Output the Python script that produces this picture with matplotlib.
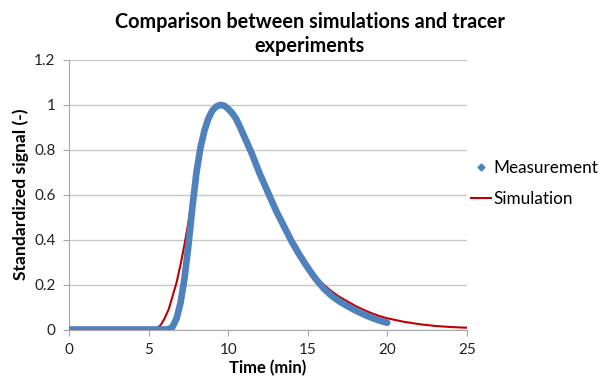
import numpy as np
import matplotlib
matplotlib.use("Agg")
import matplotlib.pyplot as plt
from matplotlib.lines import Line2D

plt.rcParams['font.family'] = ['Lato', 'DejaVu Sans']

# measurement (tracer experiment), standardized signal
t_meas = [0, 1, 2, 3, 4, 5, 5.5, 6, 6.35, 6.5, 6.75, 7, 7.25, 7.5, 7.75, 8, 8.25, 8.5,
          8.75, 9, 9.25, 9.5, 9.75, 10, 10.25, 10.5, 10.75, 11, 11.5, 12, 12.5, 13, 13.5, 14, 14.5,
          15, 15.5, 16, 16.5, 17, 17.5, 18, 18.5, 19, 19.5, 20]
meas = [0, 0, 0, 0, 0, 0, 0, 0, 0.003, 0.012, 0.05, 0.12, 0.23, 0.38, 0.55, 0.70, 0.81, 0.885,
        0.94, 0.975, 0.993, 1.0, 0.996, 0.982, 0.963, 0.937, 0.90, 0.86, 0.78, 0.69, 0.61, 0.53, 0.46, 0.39, 0.33,
        0.275, 0.225, 0.183, 0.15, 0.125, 0.104, 0.085, 0.068, 0.053, 0.04, 0.03]

# simulation
t_sim = [0, 5, 5.4, 5.75, 6, 6.25, 6.5, 6.75, 7, 7.25, 7.5, 7.75, 8, 8.25, 8.5, 8.75, 9,
         9.25, 9.5, 9.75, 10, 10.5, 11, 11.5, 12, 12.5, 13, 13.5, 14, 14.5, 15, 15.5, 16,
         16.5, 17, 17.5, 18, 18.5, 19, 19.5, 20, 21, 22, 23, 24, 25]
sim = [0, 0, 0, 0.02, 0.05, 0.09, 0.15, 0.21, 0.29, 0.38, 0.48, 0.60, 0.71, 0.81, 0.88, 0.94, 0.975,
       0.993, 1.0, 0.998, 0.99, 0.95, 0.87, 0.79, 0.70, 0.62, 0.54, 0.47, 0.40, 0.34, 0.285, 0.235, 0.20,
       0.17, 0.145, 0.125, 0.105, 0.088, 0.073, 0.06, 0.05, 0.035, 0.024, 0.016, 0.011, 0.008]

xticks = [0, 5, 10, 15, 20, 25]
yticks = [0, 0.2, 0.4, 0.6, 0.8, 1, 1.2]
ytick_labels = ['0', '0.2', '0.4', '0.6', '0.8', '1', '1.2']

blue = '#4f81bd'
red = '#c00000'

fig = plt.figure(figsize=(6.05, 3.82), dpi=100)
ax = fig.add_axes([0.1146, 0.1374, 0.6568, 0.7056])

ax.plot(t_sim, sim, color=red, lw=1.5, zorder=3)
ax.plot(t_meas, meas, color=blue, lw=4.8, solid_capstyle='round', solid_joinstyle='round', zorder=4)

ax.set_xlim(0, 25)
ax.set_ylim(0, 1.2)
ax.set_xticks(xticks)
ax.set_yticks(yticks)
ax.set_yticklabels(ytick_labels)
ax.grid(axis='y', color='#c8c8c8', lw=1)
ax.set_axisbelow(True)
for s in ['top', 'right']:
    ax.spines[s].set_visible(False)
for s in ['left', 'bottom']:
    ax.spines[s].set_color('#a6a6a6')
ax.tick_params(axis='both', colors='#a6a6a6', labelcolor='#222222', labelsize=11, length=4)
ax.tick_params(axis='x', pad=6)
ax.tick_params(axis='y', pad=6)

ax.set_xlabel('Time (min)', fontsize=12, fontweight='bold', labelpad=2)
ax.set_ylabel('Standardized signal (-)', fontsize=12.6, fontweight='bold', labelpad=4)

fig.text(0.512, 0.968, 'Comparison between simulations and tracer\nexperiments',
         ha='center', va='top', fontsize=14.3, fontweight='bold', linespacing=1.25)

handles = [Line2D([], [], color=blue, marker='D', markersize=3.5, ls='none'),
           Line2D([], [], color=red, lw=1.5)]
fig.legend(handles, ['Measurement', 'Simulation'], loc='center left',
           bbox_to_anchor=(0.778, 0.52), frameon=False, fontsize=12.3, borderpad=0,
           borderaxespad=0, handlelength=1.2, handletextpad=0.15, labelspacing=0.85)

fig.savefig('out.png', dpi=100)
